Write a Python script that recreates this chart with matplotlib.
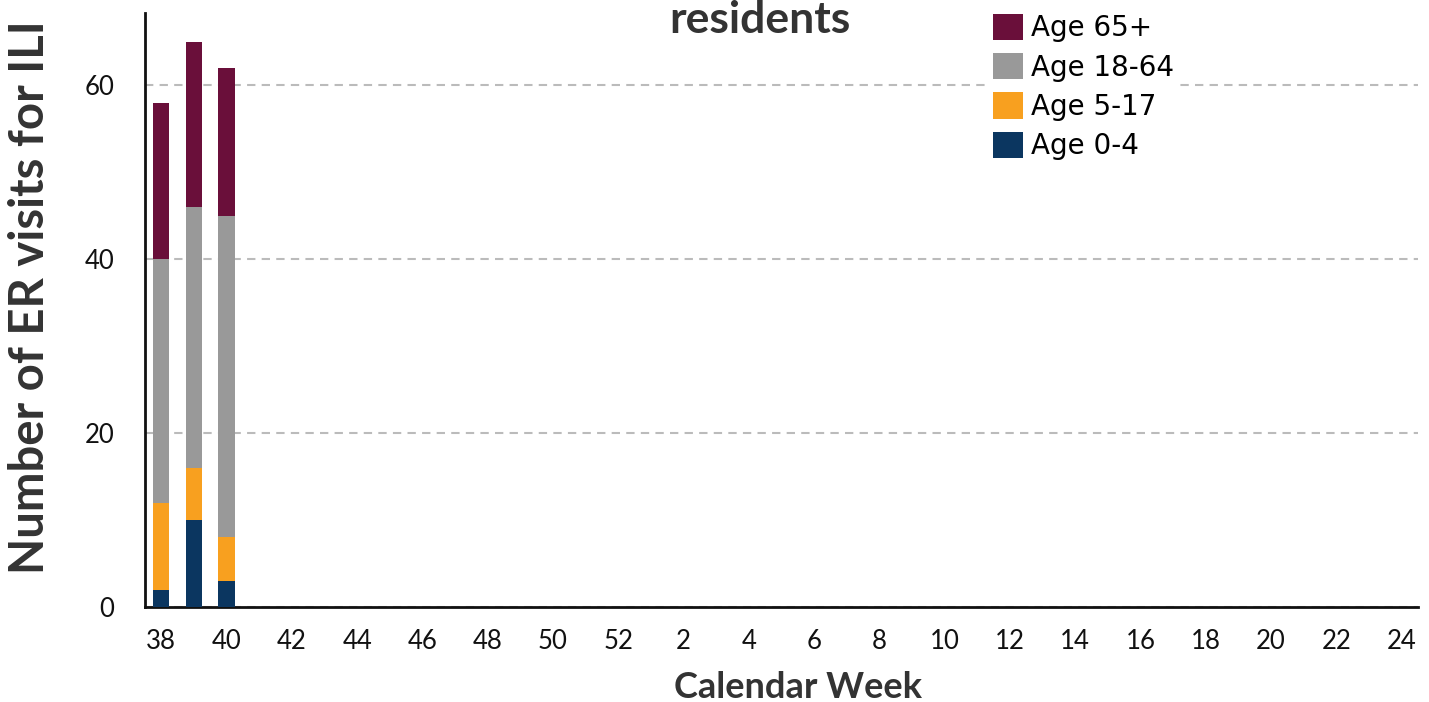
import matplotlib
matplotlib.use("Agg")
import matplotlib.pyplot as plt
import numpy as np

weeks = [38, 39, 40, 41, 42, 43, 44, 45, 46, 47, 48, 49, 50, 51, 52,
         1, 2, 3, 4, 5, 6, 7, 8, 9, 10, 11, 12, 13, 14, 15, 16, 17, 18,
         19, 20, 21, 22, 23, 24]
age_0_4 = [2, 10, 3]
age_5_17 = [10, 6, 5]
age_18_64 = [28, 30, 37]
age_65p = [18, 19, 17]

colors = {"Age 0-4": "#0b3660", "Age 5-17": "#f8a01f",
          "Age 18-64": "#999999", "Age 65+": "#6a0f3a"}

plt.rcParams['font.family'] = ['Lato', 'DejaVu Sans']

fig = plt.figure(figsize=(14.29, 7.02), dpi=100)
ax = fig.add_axes([145/1429, 1-607/702, (1418-145)/1429, (607-13)/702])

x = np.arange(len(age_0_4))
bottom = np.zeros(len(x))
handles = {}
for name, vals in [("Age 0-4", age_0_4), ("Age 5-17", age_5_17),
                   ("Age 18-64", age_18_64), ("Age 65+", age_65p)]:
    h = ax.bar(x, vals, width=0.5, bottom=bottom, color=colors[name], label=name, zorder=3)
    handles[name] = h
    bottom += np.array(vals)

ax.set_xlim(-0.5, len(weeks) - 0.5)
ax.set_ylim(0, 68.3)
ax.set_yticks([0, 20, 40, 60])
tick_idx = list(range(0, len(weeks), 2))
ax.set_xticks(tick_idx)
ax.set_xticklabels([str(weeks[i]) for i in tick_idx])
ax.tick_params(axis='both', length=0, labelsize=18.5, colors='#111111')
ax.tick_params(axis='y', pad=22)
ax.tick_params(axis='x', pad=16)

ax.yaxis.grid(True, linestyle=(0, (4, 3)), color='#bbbbbb', linewidth=1.5, zorder=0)
ax.set_axisbelow(True)
for s in ['top', 'right']:
    ax.spines[s].set_visible(False)
for s in ['left', 'bottom']:
    ax.spines[s].set_linewidth(2)
    ax.spines[s].set_color('#111111')

fig.text(798/1429, 1-688/702, "Calendar Week", ha='center', va='center',
         fontsize=26, fontweight='bold', color='#333333')
fig.text(30/1429, 1-297/702, "Number of ER visits for ILI", ha='center', va='center',
         rotation=90, fontsize=34, fontweight='bold', color='#333333')

order = ["Age 65+", "Age 18-64", "Age 5-17", "Age 0-4"]
leg = ax.legend([handles[n] for n in order], order, loc='upper left',
                bbox_to_anchor=(987/1429, 1-8/702), bbox_transform=fig.transFigure,
                prop={'family': 'DejaVu Sans', 'size': 20},
                frameon=True, framealpha=1, edgecolor='none',
                handlelength=1.08, handleheight=1.08, handletextpad=0.3,
                labelspacing=0.39, borderpad=0.2, borderaxespad=0)
leg.set_zorder(5)

fig.text(760/1429, 1-33/702, "residents", ha='center', va='baseline',
         fontsize=32, fontweight='bold', color='#333333')

fig.savefig("out.png", dpi=100)
